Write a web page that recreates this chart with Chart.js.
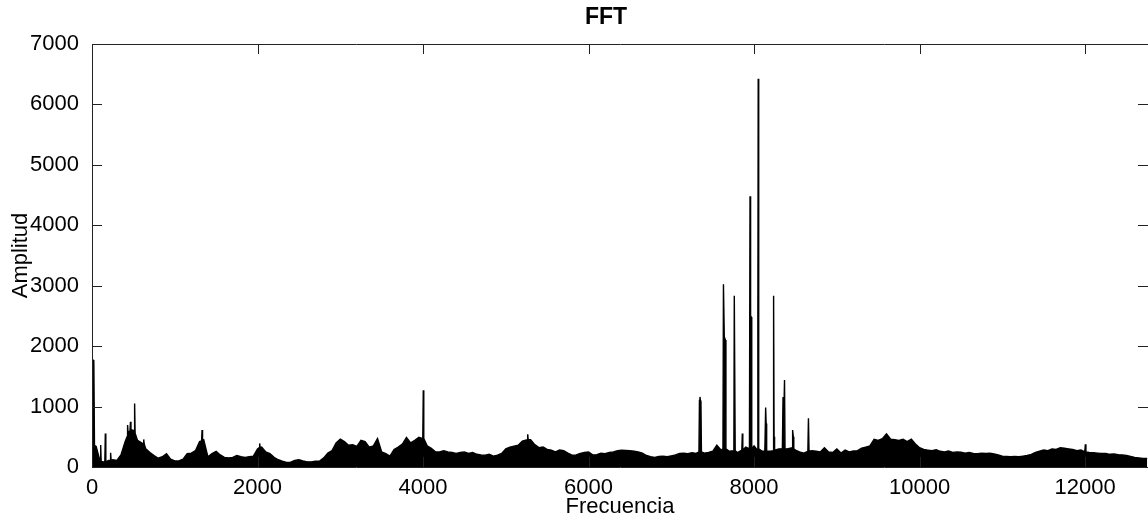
<!DOCTYPE html>
<html>
<head>
<meta charset="utf-8">
<script src="https://cdn.jsdelivr.net/npm/chart.js@4.4.1/dist/chart.umd.min.js"></script>
<style>
  body { margin: 0; background: #fff; }
  #wrap { width: 1148px; height: 520px; }
</style>
</head>
<body>
<div id="wrap"><canvas id="fftChart"></canvas></div>
<script>
// espectro base, un valor cada 50 Hz (0 .. 12750)
const freqStep = 50;
const ampLow = [1780, 340, 90, 80, 110, 120, 110, 200, 420, 620, 560, 440, 400, 300, 240, 190, 145, 170, 220, 130,
  100, 100, 130, 220, 230, 270, 420, 450, 170, 220, 260, 200, 160, 150, 160, 190, 170, 160, 170, 180, 300, 330, 250];
const ampMid1 = [220, 160, 120, 95, 75, 80, 110, 120, 100, 85, 85, 95, 100, 150, 230, 270, 400, 460, 420, 360,
  370, 340, 440, 420, 330, 350, 470, 250, 220, 180, 290, 330, 380, 490, 400, 440, 490, 470, 350, 310, 250, 250];
const ampMid2 = [270, 250, 240, 225, 240, 250, 225, 240, 210, 200, 195, 210, 180, 195, 225, 300, 330, 345, 360, 430,
  460, 450, 370, 320, 330, 290, 280, 250, 280, 270, 230, 195, 200, 225, 240, 250, 200, 205, 230, 220, 240, 250, 270];
const ampMid3 = [280, 275, 270, 260, 250, 230, 190, 170, 160, 175, 180, 170, 185, 200, 225, 230, 220, 235, 225, 250,
  230, 240, 260, 360, 280, 300, 260, 270, 240, 280, 330, 300, 350, 280, 260, 300, 260, 280, 300, 330, 300, 320, 280, 250];
const ampHigh1 = [230, 260, 270, 260, 250, 320, 250, 240, 300, 230, 280, 250, 265, 270, 310, 330, 350, 460, 440, 470,
  550, 460, 450, 440, 460, 420, 460, 380, 320, 290, 280, 270, 285, 260, 250, 265, 240, 250, 245, 230, 240, 225];
const ampHigh2 = [220, 230, 225, 230, 215, 200, 180, 175, 170, 175, 170, 180, 190, 210, 240, 260, 280, 270, 300, 290,
  320, 310, 300, 290, 270, 280, 250, 240, 235, 230, 225, 225, 210, 215, 205, 200, 190, 175, 160, 150, 140, 140];
const baseAmp = [...ampLow, ...ampMid1, ...ampMid2, ...ampMid3, ...ampHigh1, ...ampHigh2];

// picos estrechos (frecuencia, amplitud), con sus hombros
const spikeFreq = [22, 30, 99, 105, 111, 155, 161, 167, 219, 225, 231,
  424, 430, 436, 459, 465, 471, 509, 515, 521, 619, 625, 631, 1324, 1330, 1336, 2020, 2026, 2032,
  3997, 4003, 4009, 5259, 5265, 5271,
  7334, 7340, 7346, 7352, 7358, 7364,
  7624, 7630, 7640, 7654, 7660,
  7756, 7761, 7767, 7772, 7852, 7858, 7864,
  7944, 7951, 7958, 7966, 7972,
  8040, 8046, 8050, 8056,
  8130, 8140, 8146, 8152, 8229, 8236, 8242, 8248,
  8342, 8350, 8360, 8368, 8374, 8460, 8466, 8474, 8480,
  8650, 8657, 8664, 11996, 12003, 12010];
const spikeAmp = [1760, 360, 90, 364, 90, 80, 556, 80, 110, 237, 110,
  500, 694, 560, 600, 750, 620, 600, 1050, 560, 380, 457, 380, 430, 611, 440, 320, 390, 320,
  470, 1270, 470, 450, 540, 450,
  250, 1100, 1160, 1100, 1080, 250,
  300, 3025, 2154, 2100, 300,
  270, 2832, 2832, 270, 280, 556, 280,
  300, 4480, 2484, 2484, 300,
  280, 2480, 6425, 300,
  260, 986, 720, 260, 270, 2832, 500, 280,
  300, 1160, 900, 1438, 300, 320, 611, 500, 300,
  260, 805, 260, 250, 375, 250];

const xMax = 12760;
const yMax = 7000;
const xTickValues = [0, 2000, 4000, 6000, 8000, 10000, 12000];
const yTickValues = [0, 1000, 2000, 3000, 4000, 5000, 6000, 7000];

// juntar espectro base + picos
const points = [];
baseAmp.forEach(function (a, i) {
  const f = i * freqStep;
  if (!spikeFreq.some(s => Math.abs(s - f) < 12)) points.push({ x: f, y: a });
});
spikeFreq.forEach((f, i) => points.push({ x: f, y: spikeAmp[i] }));
points.sort((p, q) => p.x - q.x);

const fontFam = '"Liberation Sans", Arial, sans-serif';

// marco y marcas hacia dentro, estilo MATLAB
const frameTicks = {
  id: 'frameTicks',
  afterDraw(chart) {
    const { ctx, chartArea: a, scales: { x, y } } = chart;
    ctx.save();
    ctx.strokeStyle = '#222';
    ctx.lineWidth = 1;
    ctx.beginPath();
    ctx.rect(a.left + 0.5, a.top + 0.5, a.right - a.left, a.bottom - a.top);
    x.ticks.forEach(t => {
      const px = Math.round(x.getPixelForValue(t.value)) + 0.5;
      ctx.moveTo(px, a.bottom); ctx.lineTo(px, a.bottom - 10);
      ctx.moveTo(px, a.top); ctx.lineTo(px, a.top + 10);
    });
    y.ticks.forEach(t => {
      const py = Math.round(y.getPixelForValue(t.value)) + 0.5;
      ctx.moveTo(a.left, py); ctx.lineTo(a.left + 10, py);
      ctx.moveTo(a.right, py); ctx.lineTo(a.right - 10, py);
    });
    ctx.stroke();
    ctx.fillStyle = '#000';
    ctx.font = 'bold 23px ' + fontFam;
    ctx.textAlign = 'center';
    ctx.textBaseline = 'alphabetic';
    ctx.fillText('FFT', 606, 24);
    ctx.restore();
  }
};

const tickFont = { family: fontFam, size: 22 };

new Chart(document.getElementById('fftChart').getContext('2d'), {
  type: 'line',
  data: {
    datasets: [{
      data: points,
      borderColor: '#000',
      backgroundColor: '#000',
      borderWidth: 1.4,
      pointRadius: 0,
      fill: 'origin',
      tension: 0
    }]
  },
  options: {
    responsive: true,
    maintainAspectRatio: false,
    animation: false,
    layout: { padding: { top: 44, right: 0, left: 0, bottom: 0 } },
    plugins: { legend: { display: false }, tooltip: { enabled: false } },
    scales: {
      x: {
        type: 'linear',
        min: 0,
        max: xMax,
        grid: { display: false },
        border: { display: false },
        ticks: { color: '#000', padding: 0, maxRotation: 0, autoSkip: false, font: tickFont,
          callback: v => String(v) },
        afterBuildTicks(scale) { scale.ticks = xTickValues.map(v => ({ value: v })); },
        title: { display: true, text: 'Frecuencia', color: '#000', padding: 0, font: tickFont },
        afterFit(scale) { scale.height = 53; }
      },
      y: {
        min: 0,
        max: yMax,
        grid: { display: false },
        border: { display: false },
        ticks: { color: '#000', padding: 5, autoSkip: false, font: tickFont,
          callback: v => String(v) },
        afterBuildTicks(scale) { scale.ticks = yTickValues.map(v => ({ value: v })); },
        title: { display: true, text: 'Amplitud', color: '#000', padding: { top: 8, bottom: 0 }, font: tickFont },
        afterFit(scale) { scale.width = 92; }
      }
    }
  },
  plugins: [frameTicks]
});
</script>
</body>
</html>
